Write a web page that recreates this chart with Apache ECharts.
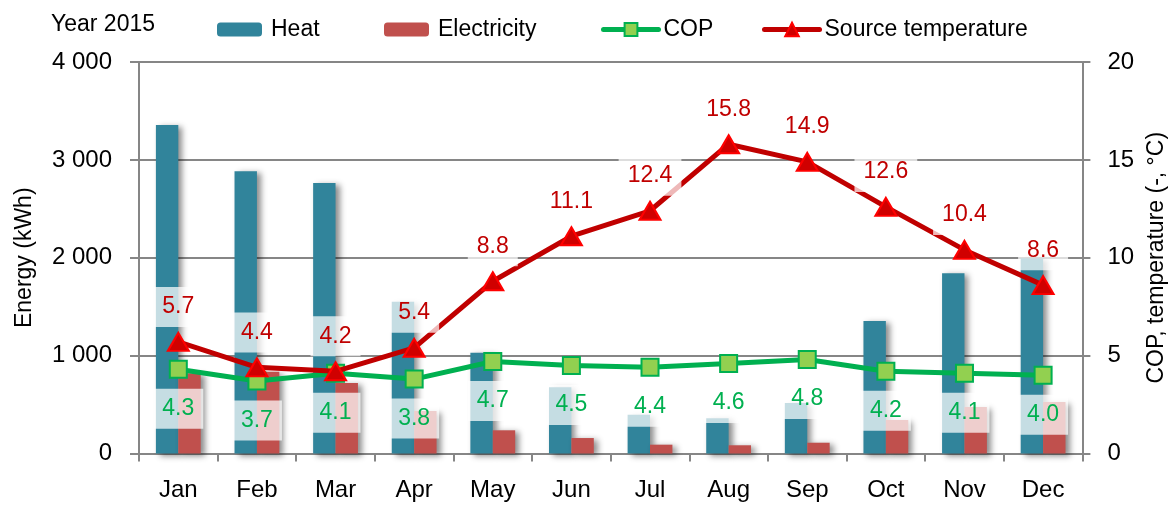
<!DOCTYPE html>
<html>
<head>
<meta charset="utf-8">
<script src="https://cdn.jsdelivr.net/npm/echarts@6/dist/echarts.min.js"></script>
<style>
html,body{margin:0;padding:0;background:#fff;}
#chart{width:1176px;height:507px;}
</style>
</head>
<body>
<div id="chart"></div>
<script>
const months = ['Jan','Feb','Mar','Apr','May','Jun','Jul','Aug','Sep','Oct','Nov','Dec'];
const heat = [3356, 2883, 2764, 1551, 1030, 676, 396, 360, 516, 1354, 1841, 1994];
const electricity = [820, 835, 720, 434, 237, 158, 90, 84, 110, 342, 475, 526];
const cop = [4.3, 3.7, 4.1, 3.8, 4.7, 4.5, 4.4, 4.6, 4.8, 4.2, 4.1, 4.0];
const sourceTemp = [5.7, 4.4, 4.2, 5.4, 8.8, 11.1, 12.4, 15.8, 14.9, 12.6, 10.4, 8.6];
const energyTicks = [0, 1000, 2000, 3000, 4000];
const rightTicks = [0, 5, 10, 15, 20];

const FONT = "'Liberation Sans', Arial, sans-serif";
const GRID = '#868686';
const chart = echarts.init(document.getElementById('chart'), null, {renderer: 'canvas'});

const labelBox = {
  backgroundColor: 'rgba(255,255,255,0.72)',
  padding: [7, 9],
  lineHeight: 26,
  fontSize: 23,
  fontFamily: FONT
};
const barShadow = {shadowColor: 'rgba(0,0,0,0.45)', shadowBlur: 6, shadowOffsetX: 4, shadowOffsetY: 2};

const legendText = {fontSize: 23, fontFamily: FONT, color: '#000'};

chart.setOption({
  animation: false,
  backgroundColor: '#fff',
  textStyle: {fontFamily: FONT},
  title: {
    text: 'Year 2015', left: 51, top: 13, padding: 0,
    textStyle: {fontSize: 23, fontWeight: 'normal', fontFamily: FONT, color: '#000'}
  },
  legend: [
    {data: ['Heat'], left: 217, top: 18, padding: 0, itemWidth: 45, itemHeight: 14,
     textStyle: Object.assign({padding: [0,0,0,4]}, legendText)},
    {data: ['Electricity'], left: 384, top: 18, padding: 0, itemWidth: 45, itemHeight: 14,
     textStyle: Object.assign({padding: [0,0,0,4]}, legendText)},
    {data: ['COP'], left: 601, top: 18, padding: 0, itemWidth: 55, itemHeight: 16,
     lineStyle: {width: 5, cap: 'round'}, textStyle: legendText},
    {data: ['Source temperature'], left: 762, top: 18, padding: 0, itemWidth: 55, itemHeight: 17,
     lineStyle: {width: 5, cap: 'round'}, textStyle: legendText}
  ],
  grid: {left: 139, right: 88, top: 62, bottom: 53.5, containLabel: false},
  xAxis: {
    type: 'category', data: months,
    axisLine: {lineStyle: {color: GRID, width: 2}},
    axisTick: {show: true, length: 8, lineStyle: {color: GRID, width: 2}},
    axisLabel: {fontSize: 24, color: '#000', margin: 25, fontFamily: FONT}
  },
  yAxis: [
    {
      type: 'value', min: 0, max: 4000, interval: 1000,
      name: 'Energy (kWh)', nameLocation: 'middle', nameGap: 103, nameRotate: 90,
      nameTextStyle: {fontSize: 23, color: '#000', fontFamily: FONT},
      axisLine: {show: true, lineStyle: {color: GRID, width: 2}},
      axisTick: {show: true, length: 9, lineStyle: {color: GRID, width: 2}},
      splitLine: {show: true, lineStyle: {color: GRID, width: 2}},
      axisLabel: {fontSize: 24, color: '#000', margin: 27, fontFamily: FONT,
        formatter: v => energyTicks.includes(v) ? String(v).replace(/\B(?=(\d{3})+(?!\d))/g, ' ') : ''}
    },
    {
      type: 'value', min: 0, max: 20, interval: 5,
      name: 'COP, temperature (-, °C)', nameLocation: 'middle', nameGap: 55, nameRotate: 90,
      nameTextStyle: {fontSize: 23, color: '#000', fontFamily: FONT},
      axisLine: {show: true, lineStyle: {color: GRID, width: 2}},
      axisTick: {show: true, length: 8, lineStyle: {color: GRID, width: 2}},
      splitLine: {show: false},
      axisLabel: {fontSize: 24, color: '#000', margin: 25, fontFamily: FONT,
        formatter: v => rightTicks.includes(v) ? String(v) : ''}
    }
  ],
  series: [
    {
      name: 'Heat', type: 'bar', data: heat, yAxisIndex: 0,
      barGap: '0%', barCategoryGap: '43%',
      itemStyle: Object.assign({color: '#31849B'}, barShadow),
      z: 1
    },
    {
      name: 'Electricity', type: 'bar', data: electricity, yAxisIndex: 0,
      barGap: '0%', barCategoryGap: '43%',
      itemStyle: Object.assign({color: '#C0504D'}, barShadow),
      z: 1
    },
    {
      name: 'COP', type: 'line', data: cop, yAxisIndex: 1,
      symbol: 'rect', symbolSize: 17,
      lineStyle: {color: '#00B050', width: 5},
      itemStyle: {color: '#92D050', borderColor: '#00B050', borderWidth: 2},
      label: Object.assign({show: true, position: 'bottom', distance: 10, color: '#00B050',
        formatter: p => p.value.toFixed(1)}, labelBox),
      z: 3
    },
    {
      name: 'Source temperature', type: 'line', data: sourceTemp, yAxisIndex: 1,
      symbol: 'triangle', symbolSize: [21, 18],
      lineStyle: {color: '#C00000', width: 5},
      itemStyle: {color: '#D00000', borderColor: '#FF0000', borderWidth: 2},
      label: Object.assign({show: true, position: 'top', distance: 5, color: '#C00000',
        formatter: p => p.value.toFixed(1)}, labelBox),
      z: 4
    }
  ]
});
</script>
</body>
</html>
